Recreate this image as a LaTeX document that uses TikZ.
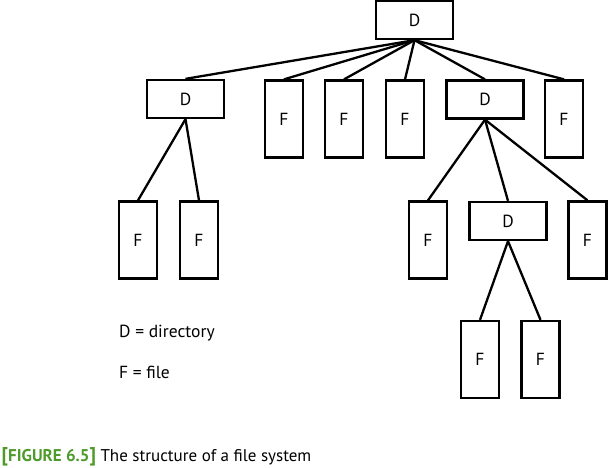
\documentclass[tikz,border=0pt]{standalone}
\usepackage{fontspec}
\setmainfont{PT Sans}
\definecolor{figgreen}{HTML}{4E9A2A}
\tikzset{
  dirbox/.style={draw,line width=2.3pt,minimum width=77pt,minimum height=38pt,inner sep=0pt},
  filebox/.style={draw,line width=2.3pt,minimum width=38pt,minimum height=77pt,inner sep=0pt},
  link/.style={line width=2.3pt}
}
\begin{document}
\begin{tikzpicture}[x=1pt,y=-1pt,font=\fontsize{17.5}{20}\selectfont]
    \useasboundingbox (0,0) rectangle (608,467);

    % top level
    \node[dirbox] (root) at (414.5,20) {D};
    \node[dirbox] (dA) at (185.5,99) {D};
    \node[filebox] (f1) at (284,119) {F};
    \node[filebox] (f2) at (344,119) {F};
    \node[filebox] (f3) at (405,119) {F};
    \node[dirbox] (dB) at (485,99.5) {D};
    \node[filebox] (f4) at (564,119) {F};

    % second level
    \node[filebox] (f5) at (138,240) {F};
    \node[filebox] (f6) at (199,240) {F};
    \node[filebox] (f7) at (428,240) {F};
    \node[dirbox] (dC) at (508,221) {D};
    \node[filebox] (f8) at (587.5,240) {F};

    % third level
    \node[filebox] (f9) at (480,359.5) {F};
    \node[filebox] (f10) at (540.5,359.5) {F};

    \foreach \c in {dA,f1,f2,f3,dB,f4}
      \draw[link] (root.south) -- (\c.north);
    \foreach \c in {f5,f6}
      \draw[link] (dA.south) -- (\c.north);
    \foreach \c in {f7,dC,f8}
      \draw[link] (dB.south) -- (\c.north);
    \foreach \c in {f9,f10}
      \draw[link] (dC.south) -- (\c.north);

    \node[anchor=base west,inner sep=0] (keyD) at (119,337) {D = directory};
    \node[anchor=base west,inner sep=0] (keyF) at (119,378) {F = file};

    \node[anchor=base west,inner sep=0,font=\fontsize{17}{20}\selectfont] (cap) at (1.5,461.5)
      {{\color{figgreen}\bfseries\fontsize{20}{22}\selectfont[\fontsize{17}{20}\selectfont FIGURE 6.5\fontsize{20}{22}\selectfont]} The structure of a file system};
\end{tikzpicture}
\end{document}
